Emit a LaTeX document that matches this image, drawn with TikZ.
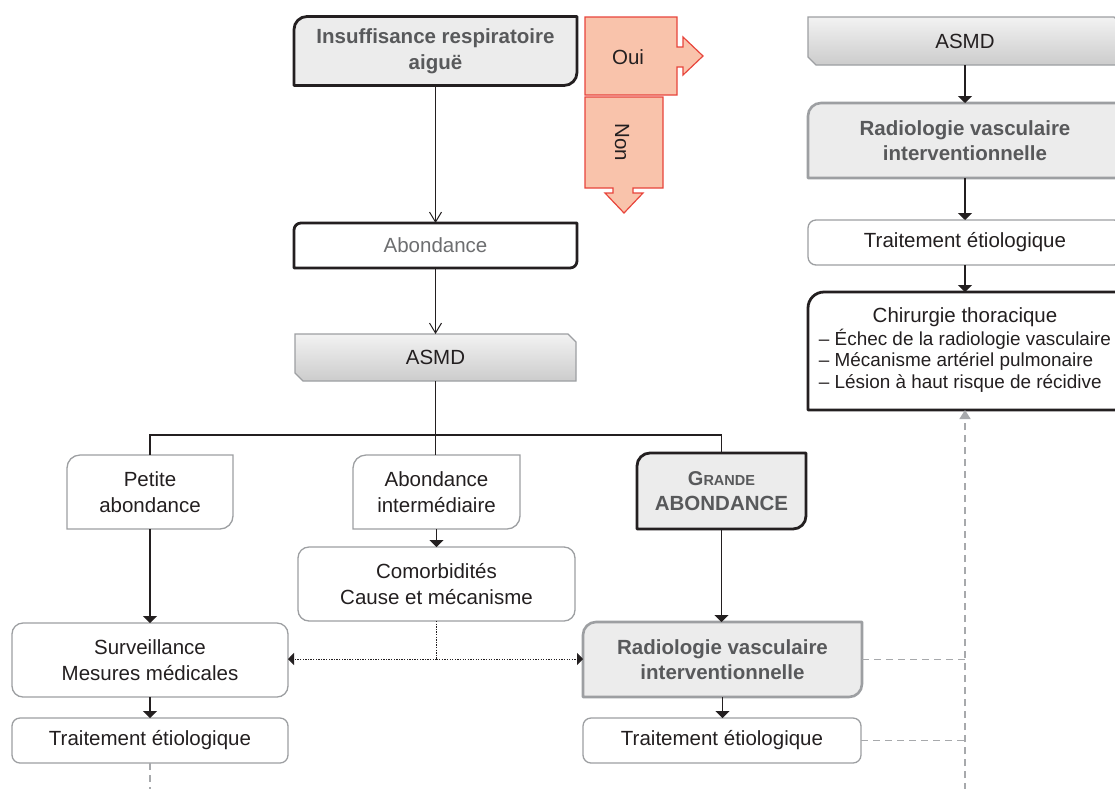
\documentclass[tikz,border=0pt]{standalone}
\usepackage{fontspec}
\setmainfont{Liberation Sans}
\usetikzlibrary{arrows.meta,backgrounds,calc}

\definecolor{txt}{HTML}{231F20}
\definecolor{btxt}{HTML}{58595B}
\definecolor{atxt}{HTML}{6D6E70}
\definecolor{bord}{HTML}{9D9FA2}
\definecolor{dark}{HTML}{231F20}
\definecolor{boxfill}{HTML}{ECECEC}
\definecolor{salmon}{HTML}{F9C3AB}
\definecolor{redline}{HTML}{E8453C}
\definecolor{dashgray}{HTML}{A7A9AC}

\newcommand\shpTLBR[3]{%
  \begin{pgfonlayer}{background}
  \path[#3] (#1.south west) -- ([yshift=-#2]#1.north west)
    arc[start angle=180,end angle=90,radius=#2] -- (#1.north east)
    -- ([yshift=#2]#1.south east)
    arc[start angle=0,end angle=-90,radius=#2] -- cycle;
  \end{pgfonlayer}}
\newcommand\shpTL[3]{%
  \begin{pgfonlayer}{background}
  \path[#3] (#1.south west) -- ([yshift=-#2]#1.north west)
    arc[start angle=180,end angle=90,radius=#2] -- (#1.north east)
    -- (#1.south east) -- cycle;
  \end{pgfonlayer}}
\newcommand\shpChamf[3]{%
  \begin{pgfonlayer}{background}
  \path[#3] (#1.north west) -- ([xshift=-#2]#1.north east)
    -- ([yshift=-#2]#1.north east) -- (#1.south east)
    -- ([xshift=#2]#1.south west) -- ([yshift=#2]#1.south west) -- cycle;
  \end{pgfonlayer}}
\newcommand\shpRound[3]{%
  \begin{pgfonlayer}{background}
  \path[#3, rounded corners=#2] (#1.south west) rectangle (#1.north east);
  \end{pgfonlayer}}

\tikzset{
  box/.style={draw=none, inner sep=0pt, outer sep=0pt, align=center,
    font=\fontsize{20.5}{25.5}\selectfont, text=txt},
  boldtext/.style={font=\fontsize{20.5}{25.5}\selectfont\bfseries, text=btxt},
  darkframe/.style={draw=dark, line width=2.8pt, line join=round, fill=boxfill},
  darkwhite/.style={draw=dark, line width=2.8pt, line join=round, fill=white},
  thinframe/.style={draw=bord, line width=1.3pt, fill=white},
  grayframe/.style={draw=bord, line width=2.6pt, line join=round, fill=boxfill},
  asmdframe/.style={draw=bord, line width=1.2pt, top color=white!95!black, bottom color=white!80!black},
  arrowshape/.style={draw=redline, line width=1.2pt, fill=salmon, line join=miter},
  arr/.style={draw=dark, line width=1.2pt, -{Triangle[width=14pt,length=7pt]}},
  openarr/.style={draw=dark, line width=1pt, -{Straight Barb[width=12pt,length=10pt,line width=1pt]}},
  plainline/.style={draw=dark, line width=1.1pt},
  dotarr/.style={draw=dark, line width=0.9pt, dash pattern=on 1.3pt off 1.3pt, -{Triangle[width=12pt,length=6pt]}},
  dashline/.style={draw=dashgray, line width=1.5pt, dash pattern=on 7pt off 5pt},
}

\begin{document}
\begin{tikzpicture}[x=1pt,y=1pt]
\begin{pgfonlayer}{background}
\fill[white] (0,0) rectangle (1115,-788);
\end{pgfonlayer}
\path[use as bounding box] (0,0) rectangle (1115,-788);

% ---- left / centre column
\node[box, boldtext, minimum width=283pt, minimum height=69pt] (ins) at (435.5,-51) {Insuffisance respiratoire\\aiguë};
\shpTLBR{ins}{13pt}{darkframe}

\node[box, text=atxt, minimum width=283pt, minimum height=45pt] (abo) at (435.5,-245.5) {Abondance};
\shpTLBR{abo}{7pt}{darkwhite}

\node[box, minimum width=281pt, minimum height=47pt] (asmd) at (435.5,-357.5) {ASMD};
\shpChamf{asmd}{8pt}{asmdframe}

\node[box, minimum width=166pt, minimum height=74pt] (petite) at (150,-492) {Petite\\abondance};
\shpTLBR{petite}{13pt}{thinframe}

\node[box, minimum width=167pt, minimum height=74pt] (inter) at (436.5,-492) {Abondance\\intermédiaire};
\shpTLBR{inter}{13pt}{thinframe}

\node[box, boldtext, minimum width=169pt, minimum height=76pt] (grande) at (721.5,-491)
  {{\fontsize{20}{25.5}\selectfont G\fontsize{14.5}{25.5}\selectfont RANDE}\\ABONDANCE};
\shpTLBR{grande}{13pt}{darkframe}

\node[box, minimum width=277pt, minimum height=74pt] (comorb) at (436.5,-584) {Comorbidités\\Cause et mécanisme};
\shpRound{comorb}{11pt}{thinframe}

\node[box, minimum width=276pt, minimum height=74pt] (surv) at (150,-660) {Surveillance\\Mesures médicales};
\shpRound{surv}{11pt}{thinframe}

\node[box, minimum width=276pt, minimum height=45pt] (trait1) at (150,-740.5) {Traitement étiologique};
\shpRound{trait1}{8pt}{thinframe}

\node[box, boldtext, minimum width=279pt, minimum height=75pt] (rvi) at (722.5,-659.5) {Radiologie vasculaire\\interventionnelle};
\shpTLBR{rvi}{13pt}{grayframe}

\node[box, minimum width=278pt, minimum height=45pt] (trait2) at (722,-740.5) {Traitement étiologique};
\shpRound{trait2}{8pt}{thinframe}

% ---- right column
\node[box, minimum width=314pt, minimum height=48pt] (asmd2) at (965,-41) {ASMD};
\shpChamf{asmd2}{8pt}{asmdframe}

\node[box, boldtext, minimum width=314pt, minimum height=75pt] (rvi2) at (965,-140.5) {Radiologie vasculaire\\interventionnelle};
\shpTL{rvi2}{13pt}{grayframe}

\node[box, minimum width=314pt, minimum height=45pt] (trait3) at (965,-242.5) {Traitement étiologique};
\shpRound{trait3}{8pt}{thinframe}

\node[box, minimum width=314pt, minimum height=118pt] (chir) at (965,-351)
  {\raisebox{-2pt}{\fontsize{18.9}{21.5}\selectfont\begin{tabular}{@{}l@{}}\multicolumn{1}{@{}c@{}}{\fontsize{20.5}{21.5}\selectfont Chirurgie thoracique}\\
  – Échec de la radiologie vasculaire\\
  – Mécanisme artériel pulmonaire\\
  – Lésion à haut risque de récidive\end{tabular}}};
\shpTL{chir}{16pt}{darkwhite}

% ---- Oui / Non arrows
\path[arrowshape] (585,-17) -- (677,-17) -- (677,-47) -- (683,-47) -- (683,-37)
  -- (703,-56) -- (683,-75) -- (683,-67) -- (677,-67) -- (677,-95) -- (585,-95) -- cycle;
\node[box] (oui) at (628,-57) {Oui};
\path[arrowshape] (585,-97) -- (663,-97) -- (663,-188) -- (633,-188) -- (633,-193)
  -- (643,-193) -- (624,-213) -- (605,-193) -- (613,-193) -- (613,-188) -- (585,-188) -- cycle;
\node[box, rotate=-90] (non) at (622,-142) {Non};

% ---- connectors
\draw[openarr] (ins.south) -- (abo.north);
\draw[openarr] (abo.south) -- (asmd.north);
\coordinate (split) at (435.5,-435);
\draw[plainline] (asmd.south) -- (asmd.south |- inter.north);
\draw[plainline] (petite.north) |- (split) -| (grande.north);

\draw[arr] (petite.south) -- (surv.north);
\draw[arr] (inter.south) -- (comorb.north);
\draw[arr] (grande.south) -- (grande.south |- rvi.north);
\draw[arr] (surv.south) -- (trait1.north);
\draw[arr] (rvi.south) -- (rvi.south |- trait2.north);

\coordinate (dj) at (436.5,-659);
\draw[draw=dark, line width=0.9pt, dash pattern=on 1.3pt off 1.3pt] (comorb.south) -- (dj);
\draw[dotarr] (dj) -- (dj -| surv.east);
\draw[dotarr] (dj) -- (dj -| rvi.west);

\draw[arr] (asmd2.south) -- (rvi2.north);
\draw[arr] (rvi2.south) -- (trait3.north);
\draw[arr] (trait3.south) -- (chir.north);

\coordinate (dbot) at (965,-790);
\coordinate (lbot) at (150,-790);
\draw[dashline, -{Triangle[width=11pt,length=9pt]}] (dbot) -- (dbot |- chir.south);
\draw[dashline] (rvi.east) -- (rvi.east -| dbot);
\draw[dashline] (trait2.east) -- (trait2.east -| dbot);
\draw[dashline] (trait1.south) -- (lbot);
\end{tikzpicture}
\end{document}
